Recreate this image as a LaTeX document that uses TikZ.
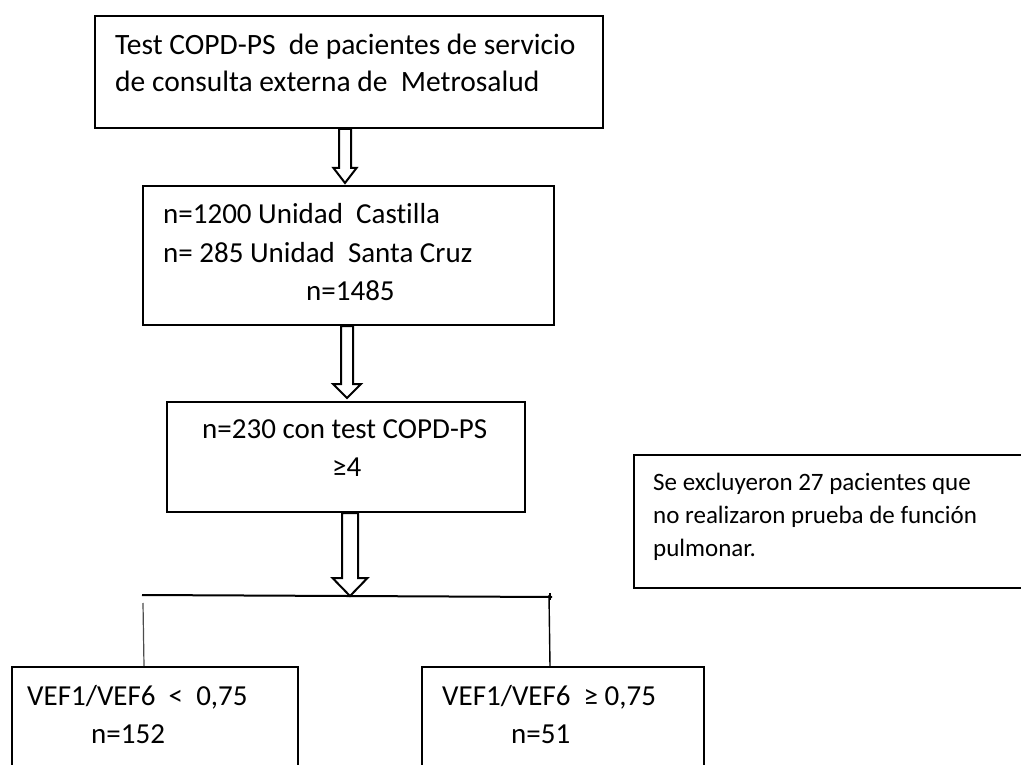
\documentclass[tikz,border=0pt]{standalone}
\usepackage{fontspec}
\setmainfont{Carlito}[Ligatures=NoCommon]
\usetikzlibrary{calc}
\tikzset{
  box/.style={draw, line width=2pt, anchor=north west, inner sep=0pt},
  txt/.style={anchor=base west, inner sep=0pt, font=\fontsize{29}{38}\selectfont},
  btxt/.style={anchor=base west, inner sep=0pt, font=\fontsize{29.5}{38}\selectfont},
  stxt/.style={anchor=base west, inner sep=0pt, font=\fontsize{25}{33}\selectfont},
  blockarrow/.style={draw, line width=2pt, fill=white, line join=miter},
  thinline/.style={draw, line width=1.2pt, black!70},
  barline/.style={draw, line width=2pt}
}
\newcommand\myblockarrow[5]{%
  \draw[blockarrow] let \p1=#1, \p2=#2 in
   (\x2-#3,\y1) -- (\x2-#3,\y2+#5) -- (\x2-#4,\y2+#5) -- (\x2,\y2)
   -- (\x2+#4,\y2+#5) -- (\x2+#3,\y2+#5) -- (\x2+#3,\y1) -- cycle;}
\begin{document}
\begin{tikzpicture}[x=1pt,y=-1pt]
\useasboundingbox (0,0) rectangle (1021,765);
\clip (0,0) rectangle (1021,765);
\fill[white] (0,0) rectangle (1021,765);

% boxes
\node[box, minimum width=508pt, minimum height=112pt] (b1) at (94,15) {};
\node[box, minimum width=411pt, minimum height=139pt] (b2) at (142,185) {};
\node[box, minimum width=358pt, minimum height=110pt] (b3) at (166,401) {};
\node[box, minimum width=420pt, minimum height=133pt] (side) at (633,454) {};
\node[box, minimum width=286pt, minimum height=140pt] (bl) at (11,666) {};
\node[box, minimum width=282pt, minimum height=140pt] (br) at (421,666) {};

% texts
\node[btxt] (t1a) at (115,55) {Test COPD-PS\ \ de pacientes de servicio};
\node[btxt] (t1b) at (115,92) {de consulta externa de\ \ Metrosalud};
\node[txt] (t2a) at (163,223) {n=1200 Unidad\ \ Castilla};
\node[txt] (t2b) at (163,262) {n= 285 Unidad\ \ Santa Cruz};
\node[txt] (t2c) at (306,300) {n=1485};
\node[txt] (t3a) at (202,438) {n=230 con test COPD-PS};
\node[txt] (t3b) at (332,476) {≥4};
\node[stxt] (s1) at (653,490) {Se excluyeron 27 pacientes que};
\node[stxt] (s2) at (653,523) {no realizaron prueba de función};
\node[stxt] (s3) at (653,556) {pulmonar.};
\node[txt] (l1) at (27,705) {VEF1/VEF6\ \ <\ \ 0,75};
\node[txt] (l2) at (91,743) {n=152};
\node[txt] (r1) at (442,705) {VEF1/VEF6\ \ ≥ 0,75};
\node[txt] (r2) at (511,743) {n=51};

% junction line
\coordinate (hl) at (142,595);
\coordinate (hr) at (552,597);
\coordinate (j) at (350,596);
\draw[barline] (hl) -- (hr);
\draw[line width=1.2pt] ($(hr)+(-2,-4)$) -- ($(hr)+(-2,3)$);
\coordinate (vl) at (143,603);
\coordinate (vr) at (549,595);
\draw[thinline] (vl) -- (bl.north -| 144,0);
\draw[line width=1.4pt] (vr) -- (br.north -| 550,0);

% block arrows
\coordinate (tip1) at (345,183);
\coordinate (tip2) at (347,398);
\myblockarrow{(b1.south)}{(tip1)}{6pt}{11.5pt}{15pt}
\myblockarrow{(b2.south)}{(tip2)}{6pt}{14pt}{14pt}
\myblockarrow{(b3.south)}{(j)}{8pt}{17.5pt}{18pt}
\end{tikzpicture}
\end{document}
